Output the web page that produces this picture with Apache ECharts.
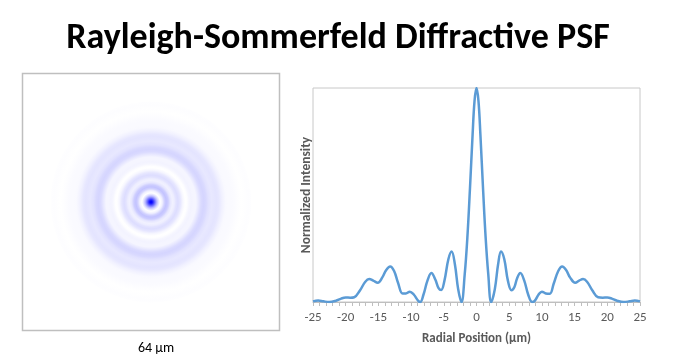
<!DOCTYPE html>
<html>
<head>
<meta charset="utf-8">
<script src="https://cdn.jsdelivr.net/npm/echarts@6/dist/echarts.min.js"></script>
<style>
html,body{margin:0;padding:0;background:#fff;}
#chart{width:692px;height:362px;}
</style>
</head>
<body>
<div id="chart"></div>
<script>
// Radial position (µm) and normalized intensity
var radialPos = [-25,-24.2,-23.4,-22.5,-21.5,-20.7,-20.0,-19.3,-18.7,-17.8,-17.0,-16.4,-15.8,-15.1,-14.4,-13.8,-13.2,-12.6,-12.0,-11.3,-10.8,-10.2,-9.6,-8.9,-8.6,-8.1,-7.5,-6.9,-6.3,-5.8,-5.4,-4.9,-4.3,-3.8,-3.3,-2.8,-2.3,-1.8,-1.4,-1.0,-0.6,-0.3,0,
  0.3,0.6,1.0,1.4,1.8,2.25,2.8,3.3,3.75,4.25,4.8,5.35,5.8,6.2,6.7,7.3,7.9,8.5,8.9,9.5,10.0,10.6,11.2,11.8,12.5,13.1,13.7,14.3,15.1,15.7,16.3,16.9,17.7,18.6,19.3,20.0,20.7,21.5,22.5,23.4,24.2,25];
var intensity = [0.003,0.007,0.003,0.0,0.006,0.016,0.021,0.020,0.022,0.055,0.095,0.107,0.100,0.090,0.115,0.150,0.166,0.145,0.090,0.040,0.040,0.048,0.035,0.005,0.0,0.035,0.100,0.135,0.105,0.065,0.056,0.100,0.200,0.236,0.175,0.060,0.0,0.13,0.30,0.53,0.78,0.94,1.0,
  0.94,0.78,0.53,0.30,0.13,0.0,0.06,0.175,0.236,0.20,0.10,0.055,0.07,0.11,0.135,0.10,0.035,0.0,0.005,0.035,0.048,0.040,0.038,0.085,0.145,0.166,0.15,0.115,0.090,0.100,0.107,0.095,0.055,0.022,0.020,0.021,0.016,0.006,0.0,0.003,0.007,0.003];
var xTicks = [-25,-20,-15,-10,-5,0,5,10,15,20,25];
var imageSpan = [-32, 32];   // µm shown in PSF image (64 µm)
var ringMaxRadius = 25;      // µm

var profile = radialPos.map(function(x, i){ return [x, intensity[i]]; });

// radial colour stops for the PSF image, from the r >= 0 half of the profile
var stops = [];
radialPos.forEach(function(x, i){
  if (x >= 0) {
    var a = Math.min(1, intensity[i]);
    var c = Math.round(255 * (1 - a));
    stops.push({offset: x / ringMaxRadius, color: 'rgb(' + c + ',' + c + ',255)'});
  }
});

var chart = echarts.init(document.getElementById('chart'));
var fontMain = 'Carlito, Lato, sans-serif';
chart.setOption({
  animation: false,
  backgroundColor: '#fff',
  title: [{
    text: 'Rayleigh-Sommerfeld Diffractive PSF',
    left: 333, top: 16, textAlign: 'center',
    textStyle: {fontFamily: fontMain, fontWeight: 'bold', fontSize: 36, color: '#000'}
  }, {
    text: '64 µm',
    left: 151, top: 336, textAlign: 'center',
    textStyle: {fontFamily: fontMain, fontWeight: 'normal', fontSize: 14, color: '#000'}
  }],
  grid: [{
    left: 313, right: 52, top: 88, bottom: 60,
    show: true, borderColor: '#c8c8c8', borderWidth: 1
  }, {
    left: 22.5, top: 73.5, width: 257, height: 257,
    show: true, borderColor: '#bfbfbf', borderWidth: 1.5
  }],
  xAxis: [{
    gridIndex: 0, type: 'value', min: -25, max: 25, interval: 5,
    name: 'Radial Position (µm)', nameLocation: 'middle', nameGap: 30,
    nameTextStyle: {fontFamily: fontMain, fontWeight: 'bold', fontSize: 13, color: '#595959'},
    axisLine: {lineStyle: {color: '#bfbfbf'}},
    axisTick: {show: true, length: 4, lineStyle: {color: '#bfbfbf'}},
    minorTick: {show: true, splitNumber: 5, length: 4, lineStyle: {color: '#bfbfbf'}},
    axisLabel: {fontFamily: fontMain, fontSize: 13, color: '#595959', margin: 9,
      formatter: function(v){ return xTicks.indexOf(v) >= 0 ? String(v) : ''; }},
    splitLine: {show: false}
  }, {
    gridIndex: 1, type: 'value', min: imageSpan[0], max: imageSpan[1], show: false
  }],
  yAxis: [{
    gridIndex: 0, type: 'value', min: 0, max: 1,
    name: 'Normalized Intensity', nameLocation: 'middle', nameGap: -1, nameRotate: 90,
    nameTextStyle: {fontFamily: fontMain, fontWeight: 'bold', fontSize: 13.5, color: '#595959'},
    axisLine: {show: false}, axisTick: {show: false}, axisLabel: {show: false},
    splitLine: {show: false}
  }, {
    gridIndex: 1, type: 'value', min: imageSpan[0], max: imageSpan[1], show: false
  }],
  series: [{
    type: 'line', xAxisIndex: 0, yAxisIndex: 0,
    data: profile, smooth: 0.4, showSymbol: false,
    lineStyle: {color: '#5b9bd5', width: 2.5},
    clip: true
  }, {
    type: 'custom', xAxisIndex: 1, yAxisIndex: 1,
    data: [[0, 0, ringMaxRadius]],
    renderItem: function(params, api){
      var c = api.coord([api.value(0), api.value(1)]);
      var r = api.size([api.value(2), 0])[0];
      return {
        type: 'circle',
        shape: {cx: c[0], cy: c[1], r: r},
        style: {fill: new echarts.graphic.RadialGradient(0.5, 0.5, 0.5, stops), stroke: null}
      };
    }
  }]
});
</script>
</body>
</html>
